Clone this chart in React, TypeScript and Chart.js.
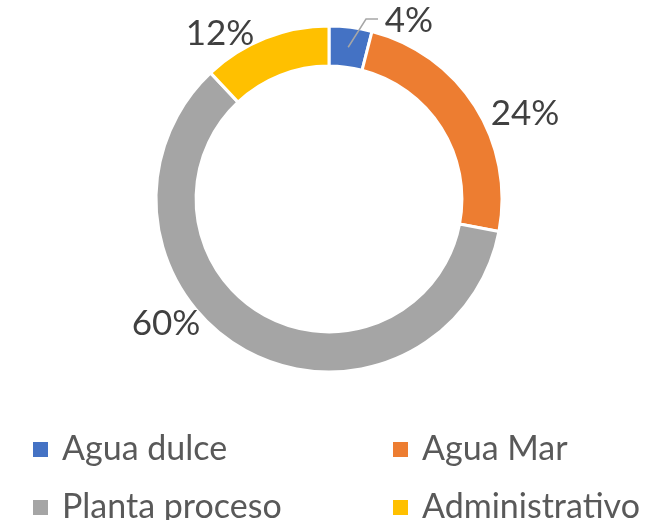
import React, { useEffect, useRef } from "react";
import { Chart, registerables } from "chart.js";

Chart.register(...registerables);

const categories = ["Agua dulce", "Agua Mar", "Planta proceso", "Administrativo"];
const values = [4, 24, 60, 12];
const colors = ["#4472C4", "#ED7D31", "#A5A5A5", "#FFC000"];

// label anchor offsets from doughnut centre (centre-x, baseline)
const labelOffsets = [
  { dx: 80, dy: -167 },
  { dx: 196, dy: -74 },
  { dx: -163, dy: 136 },
  { dx: -109, dy: -154 },
];
const FONT = "Lato, 'Open Sans', sans-serif";

export default function App() {
  const ref = useRef<HTMLCanvasElement>(null);
  useEffect(() => {
    const canvas = ref.current!;
    const total = values.reduce((a, b) => a + b, 0);
    const plugin = {
      id: "labelsLegend",
      afterDraw(chart: any) {
        const ctx = chart.ctx;
        const meta = chart.getDatasetMeta(0);
        ctx.save();
        meta.data.forEach((arc: any, i: number) => {
          const cx = arc.x, cy = arc.y;
          const pct = Math.round((values[i] / total) * 100) + "%";
          const off = labelOffsets[i];
          const lx = cx + off.dx, ly = cy + off.dy;
          ctx.font = `35px ${FONT}`;
          ctx.fillStyle = "#404040";
          ctx.textAlign = "center";
          ctx.textBaseline = "alphabetic";
          ctx.fillText(pct, lx, ly);
          if (i === 0) {
            const mid = (arc.startAngle + arc.endAngle) / 2;
            const r = (arc.innerRadius + arc.outerRadius) / 2;
            const sx = cx + Math.cos(mid) * r, sy = cy + Math.sin(mid) * r;
            ctx.strokeStyle = "#A6A6A6";
            ctx.lineWidth = 1.5;
            ctx.beginPath();
            ctx.moveTo(sx, sy);
            ctx.lineTo(lx - 43, ly - 13);
            ctx.lineTo(lx - 31, ly - 13);
            ctx.stroke();
          }
        });
        // legend 2x2
        const cols = [33, 393];
        const rows = [460, 518];
        categories.forEach((c, i) => {
          const x = cols[i % 2], y = rows[Math.floor(i / 2)];
          ctx.fillStyle = colors[i];
          ctx.fillRect(x, y - 18, 15, 15);
          ctx.font = `34px ${FONT}`;
          ctx.fillStyle = "#595959";
          ctx.textAlign = "left";
          ctx.fillText(c, x + 29, y);
        });
        ctx.restore();
      },
    };
    const chart = new Chart(canvas, {
      type: "doughnut",
      data: {
        labels: categories,
        datasets: [
          {
            data: values,
            backgroundColor: colors,
            borderColor: "#ffffff",
            borderWidth: 3,
            radius: 173,
            cutout: 131,
          },
        ],
      },
      options: {
        responsive: false,
        animation: false,
        layout: { padding: { left: 157, right: 168, top: 27, bottom: 149 } },
        plugins: { legend: { display: false }, tooltip: { enabled: false } },
      },
      plugins: [plugin],
    });
    return () => chart.destroy();
  }, []);
  return (
    <div style={{ position: "fixed", left: 0, top: 0, width: 669, height: 520, background: "#fff" }}>
      <canvas ref={ref} width={669} height={520} style={{ width: 669, height: 520 }} />
    </div>
  );
}
